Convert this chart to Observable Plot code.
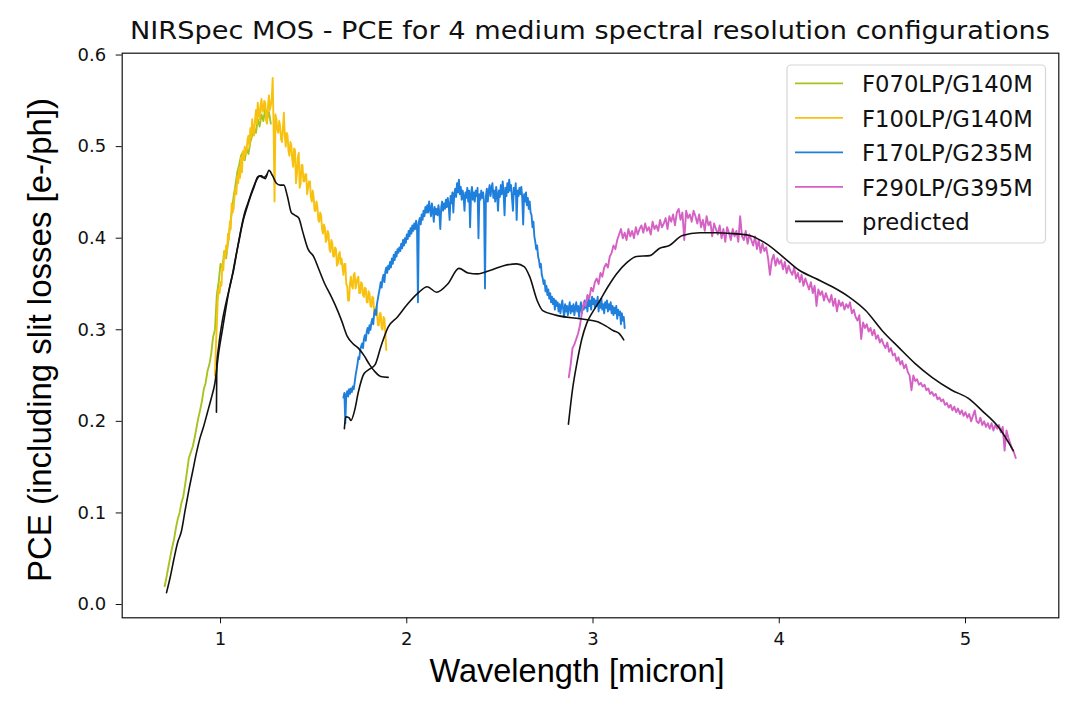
<!DOCTYPE html>
<html><head><meta charset="utf-8">
<script src="https://cdn.jsdelivr.net/npm/d3@7"></script>
<script src="https://cdn.jsdelivr.net/npm/@observablehq/plot@0.6"></script>
<style>body{margin:0;background:#fff}#chart{position:relative;width:1072px;height:708px}</style>
</head><body><div id="chart"></div>
<script>
const titleText = "NIRSpec MOS - PCE for 4 medium spectral resolution configurations";
const xLabelText = "Wavelength [micron]";
const yLabelText = "PCE (including slit losses [e-/ph])";
const xTicks = [1, 2, 3, 4, 5];
const yTicks = [0, 0.1, 0.2, 0.3, 0.4, 0.5, 0.6];
const seriesNames = ["F070LP/G140M", "F100LP/G140M", "F170LP/G235M", "F290LP/G395M", "predicted"];
const seriesColors = ["#a5c41f", "#f8c110", "#1f7fdc", "#d461c3", "#111111"];

// measured spectra: start wavelength, step (micron), PCE values
const f070Start = 0.70, f070Step = 0.01;
const f070Pce = [0.020,0.030,0.041,0.052,0.062,0.071,0.083,0.093,0.100,0.111,0.118,0.131,0.145,0.160,0.166,0.172,0.181,0.192,0.203,0.212,0.222,0.235,0.242,0.255,0.262,0.274,0.292,0.300,0.338,0.352,0.372,0.368,0.386,0.378,0.395,0.412,0.428,0.445,0.458,0.472,0.480,0.490,0.494,0.485,0.498,0.492,0.505,0.512,0.520,0.515,0.530,0.522,0.535,0.528,0.542,0.530,0.538,0.525];

const f100Start = 0.97, f100Step = 0.005;
const f100Pce = [
0.250,0.282,0.305,0.332,0.345,0.340,0.352,0.348,0.372,0.365,
0.385,0.378,0.392,0.386,0.405,0.398,0.418,0.410,0.438,0.428,
0.432,0.445,0.455,0.448,0.468,0.460,0.476,0.466,0.488,0.472,
0.495,0.486,0.500,0.492,0.496,0.508,0.512,0.500,0.520,0.510,
0.530,0.518,0.512,0.528,0.540,0.525,0.548,0.535,0.530,0.545,
0.552,0.538,0.540,0.550,0.548,0.528,0.525,0.545,0.556,0.540,
0.545,0.552,0.575,0.520,0.440,0.535,0.530,0.518,0.515,0.528,
0.522,0.508,0.505,0.520,0.537,0.512,0.500,0.515,0.512,0.495,
0.490,0.505,0.502,0.486,0.478,0.498,0.496,0.460,0.470,0.488,
0.493,0.455,0.460,0.480,0.480,0.462,0.462,0.470,0.470,0.448,
0.455,0.462,0.462,0.445,0.440,0.452,0.445,0.430,0.430,0.440,
0.435,0.420,0.418,0.428,0.425,0.410,0.405,0.415,0.412,0.396,
0.398,0.408,0.405,0.388,0.385,0.398,0.395,0.380,0.380,0.390,
0.388,0.370,0.372,0.382,0.385,0.372,0.378,0.368,0.360,0.372,
0.372,0.350,0.348,0.332,0.332,0.350,0.358,0.348,0.345,0.360,
0.362,0.345,0.350,0.356,0.358,0.340,0.340,0.352,0.350,0.338,
0.336,0.346,0.345,0.330,0.330,0.342,0.340,0.326,0.325,0.336,
0.335,0.318,0.318,0.325,0.320,0.305,0.305,0.318,0.318,0.302,
0.300,0.314,0.312,0.296,0.278];

const f170Start = 1.66, f170Step = 0.005;
const f170Pce = [
0.226,0.231,0.198,0.229,0.233,0.227,0.235,0.230,0.236,0.232,
0.238,0.235,0.242,0.250,0.256,0.262,0.270,0.268,0.278,0.282,
0.285,0.280,0.290,0.294,0.288,0.298,0.302,0.296,0.305,0.300,
0.308,0.312,0.306,0.318,0.322,0.316,0.328,0.334,0.340,0.345,
0.352,0.346,0.356,0.360,0.352,0.364,0.368,0.362,0.370,0.366,
0.374,0.368,0.378,0.372,0.382,0.376,0.385,0.380,0.388,0.384,
0.390,0.386,0.394,0.389,0.398,0.392,0.400,0.395,0.404,0.399,
0.408,0.402,0.411,0.405,0.414,0.408,0.416,0.410,0.419,0.414,
0.330,0.418,0.422,0.415,0.426,0.420,0.430,0.424,0.434,0.428,
0.436,0.428,0.440,0.432,0.424,0.438,0.430,0.418,0.434,0.426,
0.432,0.425,0.436,0.428,0.410,0.434,0.440,0.430,0.438,0.432,
0.442,0.434,0.444,0.436,0.420,0.446,0.438,0.450,0.428,0.448,
0.454,0.445,0.460,0.450,0.464,0.448,0.456,0.442,0.452,0.446,
0.430,0.450,0.444,0.455,0.440,0.452,0.412,0.448,0.456,0.442,
0.450,0.440,0.452,0.446,0.455,0.400,0.448,0.442,0.452,0.444,
0.450,0.438,0.345,0.446,0.454,0.440,0.452,0.458,0.446,0.455,
0.460,0.444,0.452,0.440,0.456,0.448,0.430,0.452,0.445,0.458,
0.448,0.462,0.450,0.425,0.455,0.446,0.460,0.450,0.464,0.452,
0.458,0.444,0.430,0.455,0.448,0.460,0.420,0.452,0.446,0.455,
0.448,0.456,0.444,0.415,0.448,0.440,0.450,0.436,0.444,0.432,
0.440,0.428,0.425,0.412,0.418,0.402,0.396,0.388,0.392,0.380,
0.376,0.368,0.372,0.360,0.356,0.350,0.354,0.342,0.348,0.338,
0.344,0.334,0.340,0.330,0.336,0.328,0.334,0.322,0.332,0.326,
0.330,0.320,0.328,0.318,0.326,0.332,0.322,0.314,0.328,0.320,
0.326,0.316,0.324,0.330,0.318,0.326,0.320,0.328,0.316,0.324,
0.330,0.320,0.326,0.314,0.324,0.330,0.318,0.326,0.322,0.332,
0.324,0.330,0.320,0.334,0.326,0.332,0.322,0.336,0.328,0.334,
0.324,0.332,0.326,0.336,0.320,0.330,0.324,0.334,0.322,0.328,
0.318,0.330,0.324,0.332,0.320,0.328,0.322,0.330,0.318,0.326,
0.316,0.324,0.318,0.326,0.312,0.322,0.316,0.320,0.306,0.318,
0.310,0.314,0.302];

const f290Start = 2.87, f290Step = 0.01;
const f290Pce = [
0.248,0.262,0.280,0.284,0.290,0.296,0.305,0.318,0.330,0.326,
0.338,0.334,0.346,0.342,0.352,0.356,0.350,0.362,0.358,0.368,
0.372,0.368,0.380,0.384,0.392,0.388,0.398,0.404,0.410,0.400,
0.406,0.398,0.410,0.402,0.408,0.400,0.412,0.404,0.410,0.414,
0.406,0.416,0.408,0.412,0.404,0.418,0.410,0.414,0.408,0.420,
0.412,0.416,0.422,0.410,0.424,0.418,0.426,0.414,0.428,0.432,
0.420,0.428,0.398,0.430,0.422,0.426,0.418,0.430,0.424,0.416,
0.426,0.412,0.420,0.408,0.424,0.414,0.418,0.402,0.416,0.410,
0.404,0.414,0.400,0.410,0.396,0.412,0.406,0.398,0.410,0.402,
0.408,0.396,0.424,0.402,0.398,0.408,0.394,0.404,0.398,0.392,
0.402,0.388,0.398,0.384,0.394,0.386,0.390,0.378,0.360,0.376,
0.382,0.370,0.378,0.372,0.376,0.366,0.374,0.362,0.370,0.364,
0.360,0.368,0.356,0.362,0.352,0.360,0.348,0.356,0.350,0.344,
0.352,0.340,0.348,0.326,0.344,0.338,0.342,0.332,0.340,0.334,
0.330,0.338,0.326,0.334,0.320,0.332,0.326,0.330,0.322,0.328,
0.324,0.330,0.318,0.322,0.314,0.310,0.316,0.290,0.308,0.302,
0.306,0.298,0.302,0.294,0.300,0.290,0.294,0.286,0.290,0.284,
0.280,0.286,0.276,0.280,0.272,0.274,0.266,0.270,0.262,0.266,
0.258,0.262,0.254,0.250,0.234,0.250,0.244,0.246,0.240,0.242,
0.238,0.240,0.234,0.236,0.230,0.232,0.228,0.230,0.224,0.226,
0.222,0.224,0.218,0.220,0.215,0.218,0.212,0.216,0.210,0.214,
0.208,0.212,0.206,0.210,0.204,0.208,0.200,0.206,0.212,0.200,
0.198,0.204,0.196,0.200,0.194,0.198,0.192,0.198,0.190,0.196,
0.192,0.196,0.188,0.194,0.168,0.190,0.182,0.176,0.170,0.166,
0.160];

// predicted curves
const pred070Wave = [0.71,0.73,0.75,0.77,0.79,0.81,0.83,0.85,0.87,0.89,0.91,0.93,0.95,0.97,0.99,1.01,1.03,1.05,1.07,1.09,1.11,1.13,1.15,1.17,1.19,1.21,1.23,1.25];
const pred070Pce  = [0.013,0.030,0.050,0.068,0.080,0.103,0.125,0.145,0.165,0.182,0.195,0.210,0.225,0.242,0.275,0.300,0.325,0.348,0.365,0.388,0.410,0.428,0.440,0.452,0.462,0.468,0.466,0.470];
const pred100Wave = [0.978,0.980,0.99,1.01,1.03,1.06,1.08,1.10,1.12,1.14,1.16,1.18,1.20,1.22,1.24,1.26,1.28,1.30,1.32,1.34,1.36,1.38,1.40,1.42,1.44,1.47,1.50,1.53,1.56,1.59,1.62,1.65,1.68,1.71,1.74,1.77,1.80,1.83,1.86,1.90];
const pred100Pce  = [0.210,0.262,0.282,0.310,0.330,0.356,0.378,0.398,0.418,0.432,0.445,0.456,0.467,0.468,0.465,0.474,0.468,0.460,0.458,0.458,0.445,0.428,0.425,0.422,0.408,0.388,0.380,0.365,0.350,0.338,0.325,0.310,0.293,0.285,0.280,0.272,0.262,0.254,0.249,0.248];
const pred170Wave = [1.665,1.672,1.69,1.70,1.72,1.74,1.77,1.80,1.83,1.86,1.90,1.95,2.00,2.06,2.11,2.16,2.22,2.28,2.33,2.38,2.45,2.52,2.59,2.63,2.66,2.70,2.73,2.80,2.93,3.02,3.07,3.11,3.14,3.165];
const pred170Pce  = [0.192,0.205,0.204,0.201,0.212,0.232,0.252,0.257,0.262,0.281,0.303,0.314,0.327,0.340,0.347,0.341,0.350,0.367,0.362,0.361,0.365,0.370,0.372,0.369,0.358,0.332,0.321,0.316,0.312,0.309,0.304,0.299,0.296,0.289];
const pred290Wave = [2.868,2.89,2.913,2.94,2.966,3.00,3.037,3.08,3.126,3.18,3.233,3.305,3.358,3.41,3.48,3.572,3.66,3.75,3.84,3.93,4.018,4.107,4.196,4.285,4.374,4.464,4.553,4.64,4.73,4.82,4.927,5.016,5.087,5.176,5.257];
const pred290Pce  = [0.197,0.235,0.263,0.290,0.307,0.320,0.332,0.347,0.361,0.373,0.380,0.381,0.389,0.392,0.403,0.406,0.406,0.405,0.403,0.394,0.380,0.365,0.356,0.347,0.336,0.321,0.299,0.281,0.263,0.248,0.234,0.225,0.212,0.194,0.168];

function spectrum(start, step, values, name) {
  return values.map((v, i) => ({wave: +(start + i * step).toFixed(4), pce: v, name}));
}
function pairs(waves, values, seg) {
  return waves.map((w, i) => ({wave: w, pce: values[i], seg}));
}
const measured = [
  ...spectrum(f070Start, f070Step, f070Pce, seriesNames[0]),
  ...spectrum(f100Start, f100Step, f100Pce, seriesNames[1]),
  ...spectrum(f170Start, f170Step, f170Pce, seriesNames[2]),
  ...spectrum(f290Start, f290Step, f290Pce, seriesNames[3])
];
const predicted = [
  ...pairs(pred070Wave, pred070Pce, "a"),
  ...pairs(pred100Wave, pred100Pce, "b"),
  ...pairs(pred170Wave, pred170Pce, "c"),
  ...pairs(pred290Wave, pred290Pce, "d")
];

const W = 1072, H = 708;
const mL = 121.7, mR = 13.7, mT = 52.7, mB = 90.7;

const chart = Plot.plot({
  width: W, height: H,
  marginLeft: mL, marginRight: mR, marginTop: mT, marginBottom: mB,
  style: {fontFamily: "DejaVu Sans", color: "#111", background: "#fff"},
  x: {domain: [0.472, 5.501]},
  y: {domain: [-0.0145, 0.602]},
  color: {domain: seriesNames, range: seriesColors},
  marks: [
    Plot.line(measured, {x: "wave", y: "pce", z: "name", stroke: "name", strokeWidth: 1.9}),
    Plot.line(predicted, {x: "wave", y: "pce", z: "seg", stroke: seriesColors[4], strokeWidth: 1.6, curve: "monotone-x"}),
    Plot.axisX({ticks: xTicks, tickSize: 6, tickPadding: 8, fontSize: 18, label: null, tickFormat: d3.format("d")}),
    Plot.axisY({ticks: yTicks, tickSize: 6, tickPadding: 10, fontSize: 18, label: null, tickFormat: d3.format(".1f")}),
    Plot.frame({stroke: "#111", strokeWidth: 1.2})
  ]
});
document.getElementById("chart").appendChild(chart);

const svg = d3.select(chart);
svg.append("text").attr("x", 590).attr("y", 39.3).attr("text-anchor", "middle")
  .attr("font-family", "DejaVu Sans").attr("font-size", 24).attr("fill", "#111")
  .attr("textLength", 920).attr("lengthAdjust", "spacingAndGlyphs").text(titleText);
svg.append("text").attr("x", 577).attr("y", 682).attr("text-anchor", "middle")
  .attr("font-family", "Liberation Sans").attr("font-size", 32.5).attr("fill", "#000").text(xLabelText);
svg.append("text").attr("transform", "translate(51,340) rotate(-90)").attr("text-anchor", "middle")
  .attr("font-family", "Liberation Sans").attr("font-size", 33).attr("fill", "#000").text(yLabelText);

// legend
const lg = svg.append("g");
lg.append("rect").attr("x", 787).attr("y", 65).attr("width", 258.5).attr("height", 178).attr("rx", 4)
  .attr("fill", "#fff").attr("fill-opacity", 0.8).attr("stroke", "#d6d6d6").attr("stroke-width", 1.2);
const rowY = [83.3, 117.8, 152.3, 186.8, 221.3];
seriesNames.forEach((name, i) => {
  lg.append("line").attr("x1", 795).attr("x2", 843).attr("y1", rowY[i]).attr("y2", rowY[i])
    .attr("stroke", seriesColors[i]).attr("stroke-width", 1.8);
  lg.append("text").attr("x", 862).attr("y", rowY[i] + 9).attr("text-anchor", "start")
    .attr("font-family", "DejaVu Sans").attr("font-size", 22.7).attr("fill", "#111").text(name);
});
</script></body></html>
